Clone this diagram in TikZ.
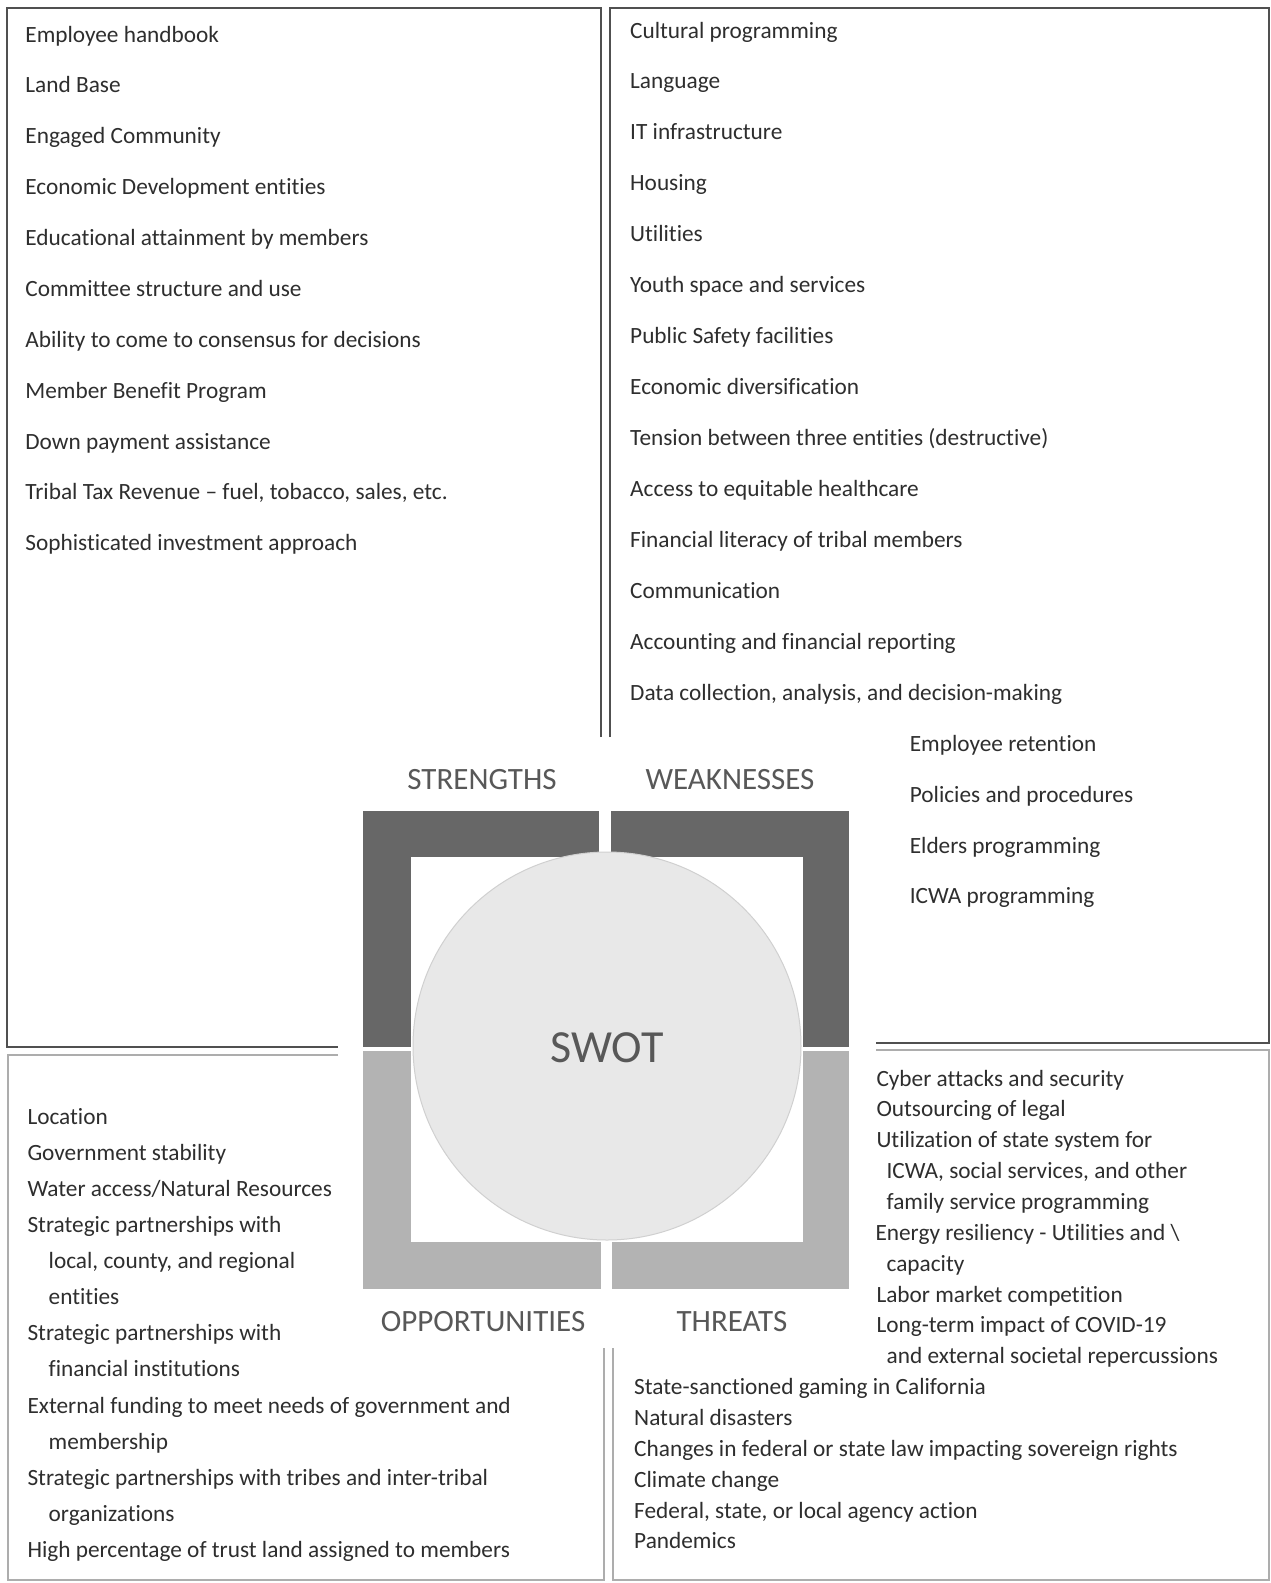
\documentclass[tikz,border=0pt]{standalone}
\usepackage{fontspec}
\setmainfont{Carlito}[Ligatures={NoCommon}]
\definecolor{txt}{HTML}{2E2E2E}
\definecolor{labtxt}{HTML}{585858}
\definecolor{darkbar}{HTML}{676767}
\definecolor{lightbar}{HTML}{B3B3B3}
\definecolor{disc}{HTML}{E8E8E8}
\definecolor{discedge}{HTML}{D0D0D0}
\definecolor{framedark}{HTML}{505050}
\definecolor{framelight}{HTML}{ADADAD}
\begin{document}
\begin{tikzpicture}[x=1pt,y=-1pt,
  item/.style={anchor=base west, inner sep=0pt, text=txt, font=\fontsize{23.3}{27}\selectfont},
  quadlabel/.style={anchor=center, inner sep=0pt, text=labtxt, font=\fontsize{31}{36}\selectfont},
  frameTop/.style={draw=framedark, line width=2pt},
  frameLow/.style={draw=framelight, line width=2pt}]
\useasboundingbox[fill=white] (0,0) rectangle (1271,1583);

% frames
\draw[frameTop] (600.7,737) -- (600.7,8) -- (7,8) -- (7,1047) -- (338,1047);
\draw[frameTop] (609.7,737) -- (609.7,8) -- (1269,8) -- (1269,1043) -- (876,1043);
\draw[frameLow] (338,1055) -- (8,1055) -- (8,1580) -- (603.7,1580) -- (603.7,1348);
\draw[frameLow] (876,1050) -- (1269,1050) -- (1269,1580) -- (612.8,1580) -- (612.8,1348);

% central graphic
\fill[darkbar] (363.3,811) rectangle (599.3,1047);
\fill[darkbar] (610.7,811) rectangle (849.3,1046.5);
\fill[lightbar] (363.3,1051) rectangle (600.7,1289.3);
\fill[lightbar] (612.3,1051) rectangle (849.3,1289.3);
\fill[white] (410.7,857.3) rectangle (802.7,1241.7);
\filldraw[fill=disc, draw=discedge, line width=1pt] (607,1046) circle[radius=194];

\node[quadlabel] (lS) at (482,780) {STRENGTHS};
\node[quadlabel] (lW) at (730,780) {WEAKNESSES};
\node[quadlabel] (lO) at (483,1321.5) {OPPORTUNITIES};
\node[quadlabel] (lT) at (732,1321.5) {THREATS};
\node[anchor=center, inner sep=0pt, text=labtxt, font=\fontsize{46}{52}\selectfont] (swot) at (607,1048) {SWOT};

% strengths
\foreach \t [count=\i from 0] in {Employee handbook, Land Base, Engaged Community,
  Economic Development entities, Educational attainment by members,
  Committee structure and use, Ability to come to consensus for decisions,
  Member Benefit Program, Down payment assistance,
  {Tribal Tax Revenue – fuel, tobacco, sales, etc.},
  Sophisticated investment approach}
  \node[item] (s\i) at (25.2,42+50.88*\i) {\t};

% weaknesses
\foreach \xx/\t [count=\i from 0] in {630/Cultural programming, 630/Language,
  630/IT infrastructure, 630/Housing, 630/Utilities, 630/Youth space and services,
  630/Public Safety facilities, 630/Economic diversification,
  630/Tension between three entities (destructive),
  630/Access to equitable healthcare, 630/Financial literacy of tribal members,
  630/Communication, 630/Accounting and financial reporting,
  {630/Data collection, analysis, and decision-making},
  909.6/Employee retention, 909.6/Policies and procedures,
  909.6/Elders programming, 909.6/ICWA programming}
  \node[item] (w\i) at (\xx,38+50.94*\i) {\t};

% opportunities
\foreach \xx/\t [count=\i from 0] in {27.3/Location, 27.3/Government stability,
  27.3/Water access\slash Natural Resources, 27.3/Strategic partnerships with,
  {48.5/local, county, and regional}, 48.5/entities,
  27.3/Strategic partnerships with, 48.5/financial institutions,
  27.3/External funding to meet needs of government and, 48.5/membership,
  27.3/Strategic partnerships with tribes and inter-tribal, 48.5/organizations,
  27.3/High percentage of trust land assigned to members}
  \node[item] (o\i) at (\xx,1124.3+36.09*\i) {\t};

% threats
\foreach \xx/\t [count=\i from 0] in {876.3/Cyber attacks and security,
  876.3/Outsourcing of legal, 876.3/Utilization of state system for,
  {886.4/ICWA, social services, and other}, 886.4/family service programming,
  875.3/Energy resiliency - Utilities and \textbackslash, 886.4/capacity,
  876.3/Labor market competition, 876.3/Long-term impact of COVID-19,
  886.4/and external societal repercussions,
  634/State-sanctioned gaming in California, 634/Natural disasters,
  634/Changes in federal or state law impacting sovereign rights,
  634/Climate change, {634/Federal, state, or local agency action},
  634/Pandemics}
  \node[item] (t\i) at (\xx,1086+30.86*\i) {\t};
\end{tikzpicture}
\end{document}
